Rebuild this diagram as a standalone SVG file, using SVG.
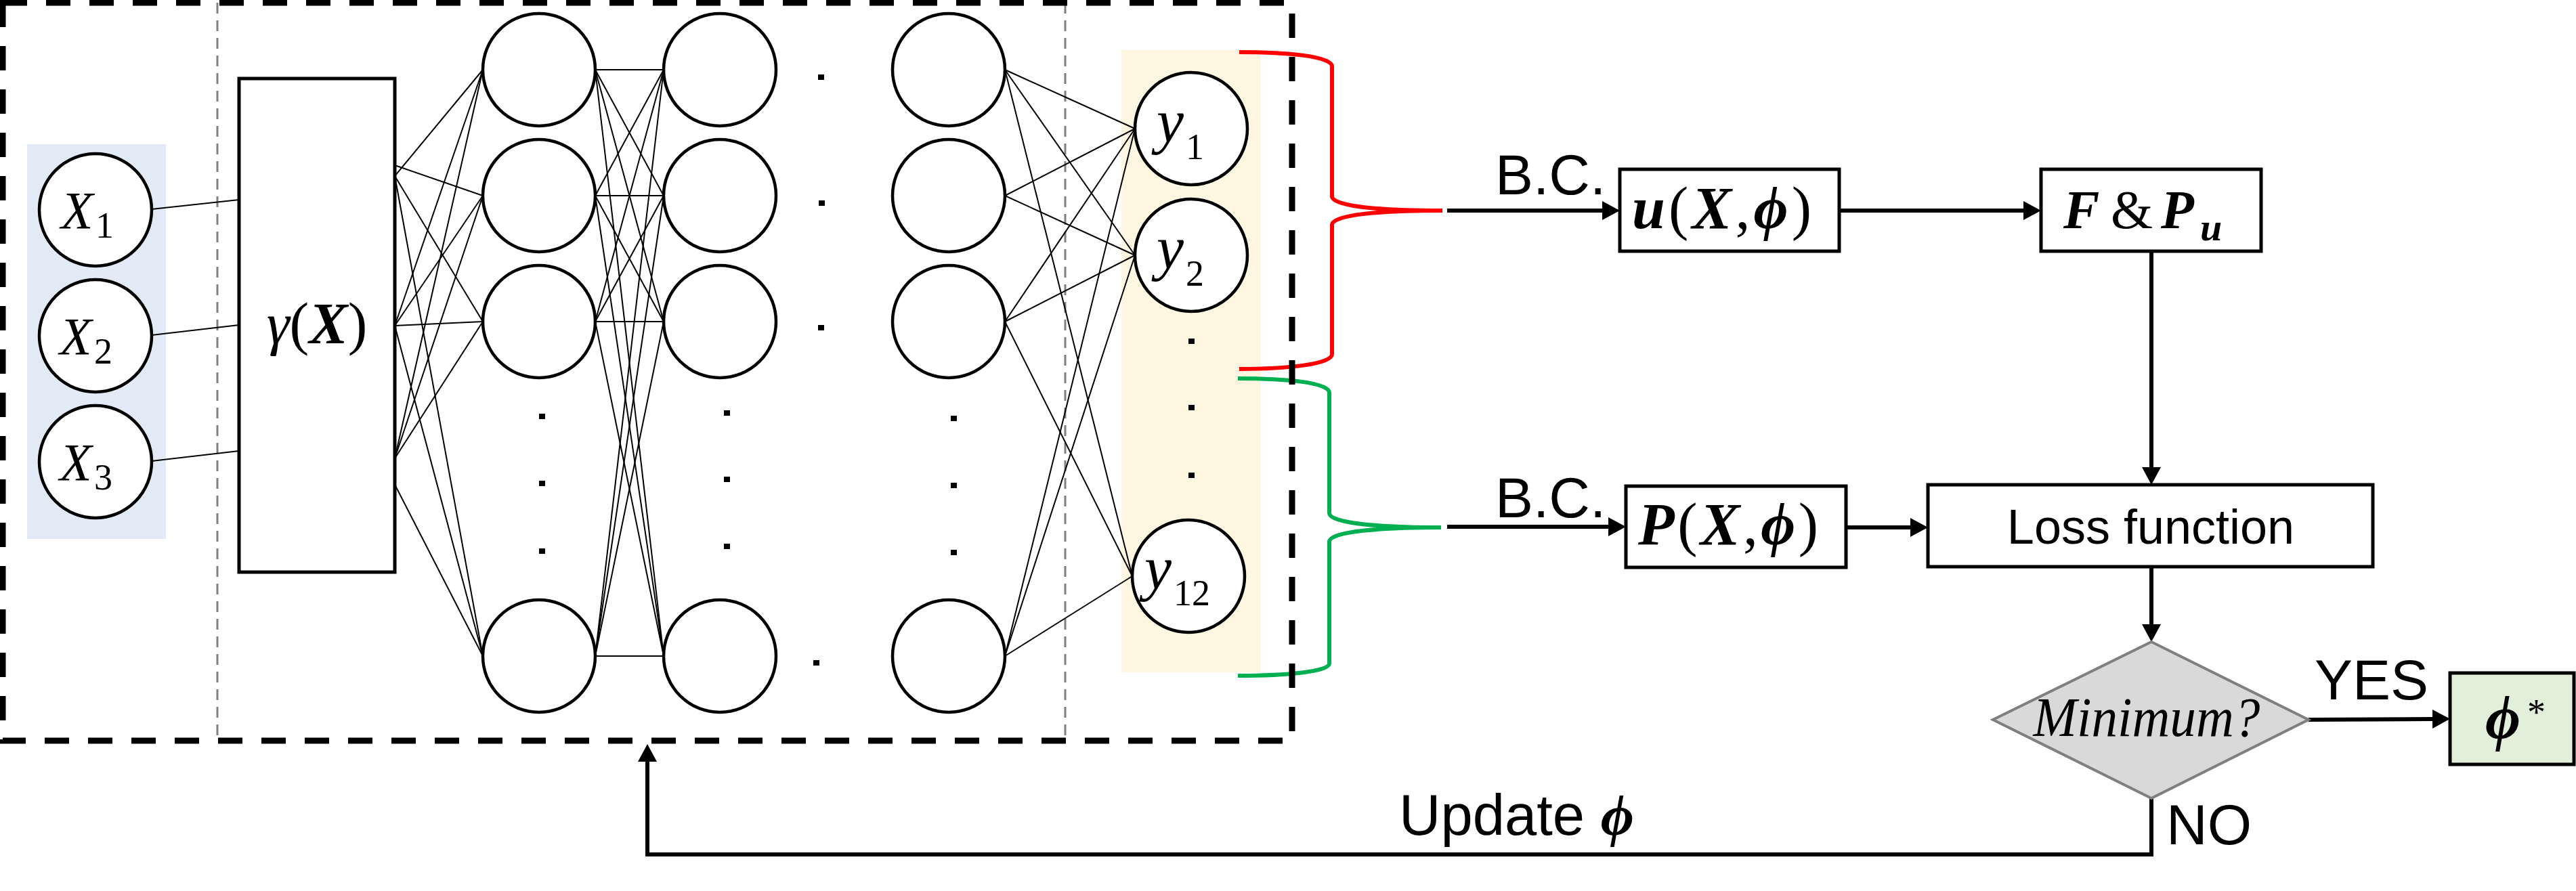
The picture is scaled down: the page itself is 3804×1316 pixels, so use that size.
<svg xmlns="http://www.w3.org/2000/svg" width="3804" height="1316" viewBox="0 0 3804 1316">
<defs>
<style>
.n{fill:#fff;stroke:#000;stroke-width:4.5}
.w{stroke:#000;stroke-width:2;fill:none}
.box{fill:#fff;stroke:#000;stroke-width:5}
.arr{stroke:#000;stroke-width:6;fill:none;marker-end:url(#ah)}
.dot{fill:#000}
.sans{font-family:"Liberation Sans",Arial,sans-serif;fill:#000}
.math{font-family:"Liberation Serif","Times New Roman",serif;fill:#000}
.bi{font-weight:bold;font-style:italic}
.it{font-style:italic}
.up{font-style:normal;font-weight:normal}
.gd{stroke:#808080;stroke-width:3;stroke-dasharray:16 10;fill:none}
.brace{fill:none;stroke-width:6;stroke-linecap:butt}
</style>
<marker id="ah" markerUnits="userSpaceOnUse" markerWidth="26" markerHeight="28" refX="0" refY="14" orient="auto" viewBox="0 0 26 28"><path d="M0,0 L26,14 L0,28 z" fill="#000"/></marker>
</defs>
<rect width="3804" height="1316" fill="#fff"/>

<g id="backgrounds">
<rect x="40" y="213" width="205" height="583" fill="#e2eaf5"/>
<rect x="1656" y="74" width="206" height="919" fill="#fef6e1"/>
<line class="gd" x1="321" y1="4" x2="321" y2="1094"/>
<line class="gd" x1="1573" y1="4" x2="1573" y2="1094"/>
</g>

<g id="connectors">
<line class="w" x1="224" y1="309" x2="353" y2="295"/>
<line class="w" x1="224" y1="495" x2="353" y2="480"/>
<line class="w" x1="224" y1="681" x2="353" y2="666"/>
<line class="w" x1="583" y1="260" x2="713" y2="103"/>
<line class="w" x1="583" y1="260" x2="713" y2="475"/>
<line class="w" x1="583" y1="260" x2="713" y2="969"/>
<line class="w" x1="574" y1="241" x2="713" y2="289"/>
<line class="w" x1="583" y1="481" x2="713" y2="103"/>
<line class="w" x1="583" y1="481" x2="713" y2="289"/>
<line class="w" x1="583" y1="481" x2="713" y2="475"/>
<line class="w" x1="583" y1="481" x2="713" y2="969"/>
<line class="w" x1="583" y1="677" x2="713" y2="103"/>
<line class="w" x1="583" y1="677" x2="713" y2="289"/>
<line class="w" x1="583" y1="677" x2="713" y2="475"/>
<line class="w" x1="576" y1="702" x2="713" y2="969"/>
<line class="w" x1="879" y1="103" x2="980" y2="103"/>
<line class="w" x1="879" y1="103" x2="980" y2="289"/>
<line class="w" x1="879" y1="103" x2="980" y2="475"/>
<line class="w" x1="879" y1="103" x2="980" y2="969"/>
<line class="w" x1="879" y1="289" x2="980" y2="103"/>
<line class="w" x1="879" y1="289" x2="980" y2="289"/>
<line class="w" x1="879" y1="289" x2="980" y2="475"/>
<line class="w" x1="879" y1="289" x2="980" y2="969"/>
<line class="w" x1="879" y1="475" x2="980" y2="103"/>
<line class="w" x1="879" y1="475" x2="980" y2="289"/>
<line class="w" x1="879" y1="475" x2="980" y2="475"/>
<line class="w" x1="879" y1="475" x2="980" y2="969"/>
<line class="w" x1="879" y1="969" x2="980" y2="103"/>
<line class="w" x1="879" y1="969" x2="980" y2="289"/>
<line class="w" x1="879" y1="969" x2="980" y2="475"/>
<line class="w" x1="879" y1="969" x2="980" y2="969"/>
<line class="w" x1="1484" y1="103" x2="1676" y2="190"/>
<line class="w" x1="1484" y1="103" x2="1676" y2="377"/>
<line class="w" x1="1484" y1="103" x2="1672" y2="851"/>
<line class="w" x1="1484" y1="289" x2="1676" y2="190"/>
<line class="w" x1="1484" y1="289" x2="1676" y2="377"/>
<line class="w" x1="1484" y1="475" x2="1676" y2="190"/>
<line class="w" x1="1484" y1="475" x2="1676" y2="377"/>
<line class="w" x1="1484" y1="475" x2="1672" y2="851"/>
<line class="w" x1="1484" y1="969" x2="1676" y2="190"/>
<line class="w" x1="1484" y1="969" x2="1676" y2="377"/>
<line class="w" x1="1484" y1="969" x2="1672" y2="851"/>
<path class="brace" stroke="#ff0000" d="M1830,77 C1900,77 1967,83 1967,98 L1967,290 C1967,305 2040,311 2130,311 M2130,311 C2040,311 1967,317 1967,332 L1967,523 C1967,538 1900,545 1830,545"/>
<path class="brace" stroke="#00b050" d="M1828,559 C1900,559 1963,565 1963,580 L1963,758 C1963,773 2040,779 2128,779 M2128,779 C2040,779 1963,785 1963,800 L1963,980 C1963,992 1900,998 1828,998"/>
<line class="arr" x1="2137" y1="311" x2="2366" y2="311"/>
<line class="arr" x1="2716" y1="311" x2="2988" y2="311"/>
<line class="arr" x1="3177" y1="371" x2="3177" y2="690"/>
<line class="arr" x1="2137" y1="778" x2="2375" y2="778"/>
<line class="arr" x1="2726" y1="779" x2="2821" y2="779"/>
<line class="arr" x1="3177" y1="837" x2="3177" y2="922"/>
<line class="arr" x1="3409" y1="1063" x2="3592" y2="1062"/>
<polyline class="arr" points="3177,1179 3177,1262 956,1262 956,1125"/>
</g>

<g id="dashed-frame">
<rect x="4" y="4" width="1904" height="1090" fill="none" stroke="#000" stroke-width="9" stroke-dasharray="36 28"/>
</g>

<g id="input-layer">
<g id="x1"><circle class="n" cx="141" cy="310" r="83"/><text class="math"><tspan class="it" x="90" y="337" font-size="78">X</tspan><tspan x="141" y="351" font-size="54">1</tspan></text></g>
<g id="x2"><circle class="n" cx="141" cy="496" r="83"/><text class="math"><tspan class="it" x="88" y="523" font-size="78">X</tspan><tspan x="139" y="537" font-size="54">2</tspan></text></g>
<g id="x3"><circle class="n" cx="141" cy="682" r="83"/><text class="math"><tspan class="it" x="88" y="709" font-size="78">X</tspan><tspan x="139" y="723" font-size="54">3</tspan></text></g>
</g>

<g id="gamma">
<rect class="box" x="353" y="116" width="230" height="729"/>
<text class="math" x="468" y="507" font-size="86" text-anchor="middle"><tspan class="it">γ</tspan><tspan>(</tspan><tspan class="bi">X</tspan><tspan>)</tspan></text>
</g>

<g id="hidden-1">
<circle class="n" cx="796" cy="103" r="83"/>
<circle class="n" cx="796" cy="289" r="83"/>
<circle class="n" cx="796" cy="475" r="83"/>
<circle class="n" cx="796" cy="969" r="83"/>
<rect class="dot" x="796" y="611" width="9" height="8"/>
<rect class="dot" x="796" y="710" width="9" height="8"/>
<rect class="dot" x="796" y="810" width="9" height="8"/>
</g>
<g id="hidden-2">
<circle class="n" cx="1063" cy="103" r="83"/>
<circle class="n" cx="1063" cy="289" r="83"/>
<circle class="n" cx="1063" cy="475" r="83"/>
<circle class="n" cx="1063" cy="969" r="83"/>
<rect class="dot" x="1069" y="606" width="9" height="8"/>
<rect class="dot" x="1069" y="704" width="9" height="8"/>
<rect class="dot" x="1069" y="803" width="9" height="8"/>
</g>
<g id="hidden-mid">
<rect class="dot" x="1208" y="110" width="9" height="8"/>
<rect class="dot" x="1209" y="296" width="9" height="8"/>
<rect class="dot" x="1208" y="480" width="9" height="8"/>
<rect class="dot" x="1201" y="975" width="9" height="8"/>
</g>
<g id="hidden-n">
<circle class="n" cx="1401" cy="103" r="83"/>
<circle class="n" cx="1401" cy="289" r="83"/>
<circle class="n" cx="1401" cy="475" r="83"/>
<circle class="n" cx="1401" cy="969" r="83"/>
<rect class="dot" x="1404" y="614" width="9" height="8"/>
<rect class="dot" x="1404" y="713" width="9" height="8"/>
<rect class="dot" x="1404" y="812" width="9" height="8"/>
</g>

<g id="output-layer">
<g id="y1"><circle class="n" cx="1759" cy="190" r="83"/><text class="math"><tspan class="it" x="1708" y="210" font-size="90">y</tspan><tspan x="1751" y="235" font-size="54">1</tspan></text></g>
<g id="y2"><circle class="n" cx="1759" cy="377" r="83"/><text class="math"><tspan class="it" x="1708" y="397" font-size="90">y</tspan><tspan x="1751" y="422" font-size="54">2</tspan></text></g>
<g id="y12"><circle class="n" cx="1755" cy="851" r="83"/><text class="math"><tspan class="it" x="1690" y="870" font-size="90">y</tspan><tspan x="1733" y="894" font-size="54">12</tspan></text></g>
<rect class="dot" x="1755" y="500" width="9" height="8"/>
<rect class="dot" x="1755" y="598" width="9" height="8"/>
<rect class="dot" x="1755" y="698" width="9" height="8"/>
</g>

<g id="labels-bc">
<text class="sans" x="2208" y="287" font-size="84">B.C.</text>
<text class="sans" x="2208" y="764" font-size="84">B.C.</text>
</g>

<g id="u-box">
<rect class="box" x="2392" y="250" width="324" height="121"/>
<text class="math" x="2410" y="337" font-size="88" textLength="265"><tspan class="bi">u</tspan><tspan>(</tspan><tspan class="bi">X</tspan><tspan>,</tspan><tspan class="bi">ϕ</tspan><tspan>)</tspan></text>
</g>

<g id="p-box">
<rect class="box" x="2401" y="718" width="325" height="120"/>
<text class="math" x="2419" y="804" font-size="88" textLength="266"><tspan class="bi">P</tspan><tspan>(</tspan><tspan class="bi">X</tspan><tspan>,</tspan><tspan class="bi">ϕ</tspan><tspan>)</tspan></text>
</g>

<g id="fp-box">
<rect class="box" x="3014" y="250" width="325" height="121"/>
<text class="math" font-size="80"><tspan class="bi" x="3047" y="337">F</tspan><tspan x="3117" y="337">&amp;</tspan><tspan class="bi" x="3191" y="337">P</tspan><tspan class="bi" x="3249" y="355" font-size="58">u</tspan></text>
</g>

<g id="loss-box">
<rect class="box" x="2847" y="716" width="657" height="121"/>
<text class="sans" x="3176" y="803" font-size="72" text-anchor="middle">Loss function</text>
</g>

<g id="decision">
<polygon points="3177,948 3409,1063 3177,1179 2943,1063" fill="#d9d9d9" stroke="#7f7f7f" stroke-width="4"/>
<text class="math it" x="3170" y="1087" font-size="82" text-anchor="middle" textLength="335" lengthAdjust="spacingAndGlyphs">Minimum?</text>
</g>

<g id="result">
<rect x="3618" y="994" width="183" height="135" fill="#e2efda" stroke="#000" stroke-width="5"/>
<text class="math"><tspan class="bi" x="3670" y="1091" font-size="90">ϕ</tspan><tspan x="3732" y="1070" font-size="54">*</tspan></text>
</g>

<g id="flow-labels">
<text class="sans" x="3418" y="1033" font-size="84">YES</text>
<text class="sans" x="3199" y="1247" font-size="84">NO</text>
<text x="2066" y="1233" font-size="85"><tspan class="sans">Update </tspan><tspan class="math bi">ϕ</tspan></text>
</g>
</svg>
